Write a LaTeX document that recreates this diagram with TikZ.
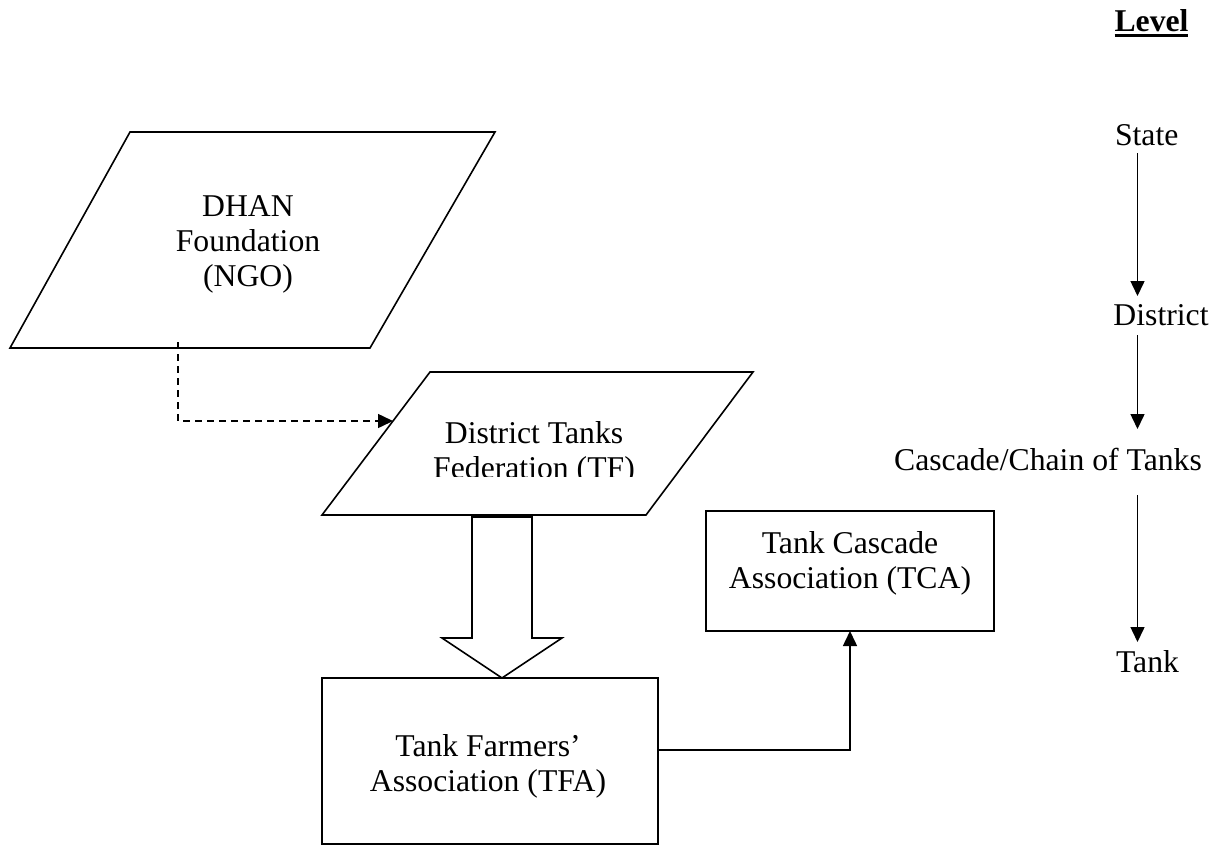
\documentclass[tikz,border=0pt]{standalone}
\usepackage{fontspec}
\setmainfont{Liberation Serif}
\usetikzlibrary{arrows.meta,calc}
\begin{document}
\begin{tikzpicture}[x=1pt,y=-1pt,
  every node/.style={inner sep=0pt,outer sep=0pt},
  txt/.style={font=\fontsize{31.7}{35}\selectfont,align=center,anchor=base},
  shapeline/.style={draw=black,line width=1.6pt,line join=miter},
  conn/.style={draw=black,line width=1.5pt,-{Triangle[length=15pt,width=14pt]}},
  dashconn/.style={conn,dash pattern=on 7pt off 5pt},
  boxnode/.style={shapeline,anchor=north west}]
\useasboundingbox (0,0) rectangle (1216,846);
\fill[white] (0,0) rectangle (1216,846);

% DHAN Foundation parallelogram
\coordinate (dhanTL) at (130,132);
\coordinate (dhanTR) at (495,132);
\coordinate (dhanBR) at (370,348);
\coordinate (dhanBL) at (10,348);
\draw[shapeline] (dhanTL) -- (dhanTR) -- (dhanBR) -- (dhanBL) -- cycle;
\node[txt] (dhan) at (248,286.7) {DHAN\\Foundation\\(NGO)};

% District Tanks Federation parallelogram
\coordinate (tfTL) at (430,372);
\coordinate (tfTR) at (753,372);
\coordinate (tfBR) at (646,515);
\coordinate (tfBL) at (322,515);
\draw[shapeline] (tfTL) -- (tfTR) -- (tfBR) -- (tfBL) -- cycle;
\begin{scope}
  \clip (300,360) rectangle (780,476);
  \node[txt] (tf) at (534,478) {District Tanks\\Federation (TF)};
\end{scope}

% dashed connector DHAN -> TF
\coordinate (dhanout) at (178,342);
\coordinate (tfin) at (393,421);
\draw[dashconn] (dhanout) |- (tfin);

% Tank Farmers' Association box
\node[boxnode,minimum width=336pt,minimum height=166pt] (tfa) at (322,678) {};
\node[txt] (tfatext) at (488,791.7) {Tank Farmers’\\Association (TFA)};

% Tank Cascade Association box
\node[boxnode,minimum width=288pt,minimum height=120pt] (tca) at (706,511) {};
\node[txt] (tcatext) at (850,588.3) {Tank Cascade\\Association (TCA)};

% block arrow TF -> TFA
\coordinate (baTop) at (502,517);
\coordinate (baTip) at (502,678);
\draw[shapeline] ($(baTop)+(-30,0)$) -- (472,638) -- (442,638) -- (baTip) -- (562,638) -- (532,638) -- ($(baTop)+(30,0)$) -- cycle;

% connector TFA -> TCA
\coordinate (tfaout) at (658,750);
\draw[conn] (tfaout) -| (tca.south);

% Level column
\node[font=\fontsize{31.7}{35}\selectfont\bfseries,anchor=base] (level) at (1151.5,31) {Level};
\draw[line width=3pt] ([yshift=-4.5pt]level.base west) -- ([yshift=-4.5pt]level.base east);
\node[txt] (state) at (1146.7,145) {State};
\node[txt] (district) at (1161,325) {District};
\node[txt] (cascade) at (1048,470) {Cascade/Chain of Tanks};
\node[txt] (tank) at (1147.5,672) {Tank};
\coordinate (a1s) at (1137.5,153);
\coordinate (a1e) at (1137.5,296);
\coordinate (a2s) at (1137.5,335);
\coordinate (a2e) at (1137.5,429);
\coordinate (a3s) at (1137.5,495);
\coordinate (a3e) at (1137.5,642);
\draw[conn] (a1s) -- (a1e);
\draw[conn] (a2s) -- (a2e);
\draw[conn] (a3s) -- (a3e);
\end{tikzpicture}
\end{document}
